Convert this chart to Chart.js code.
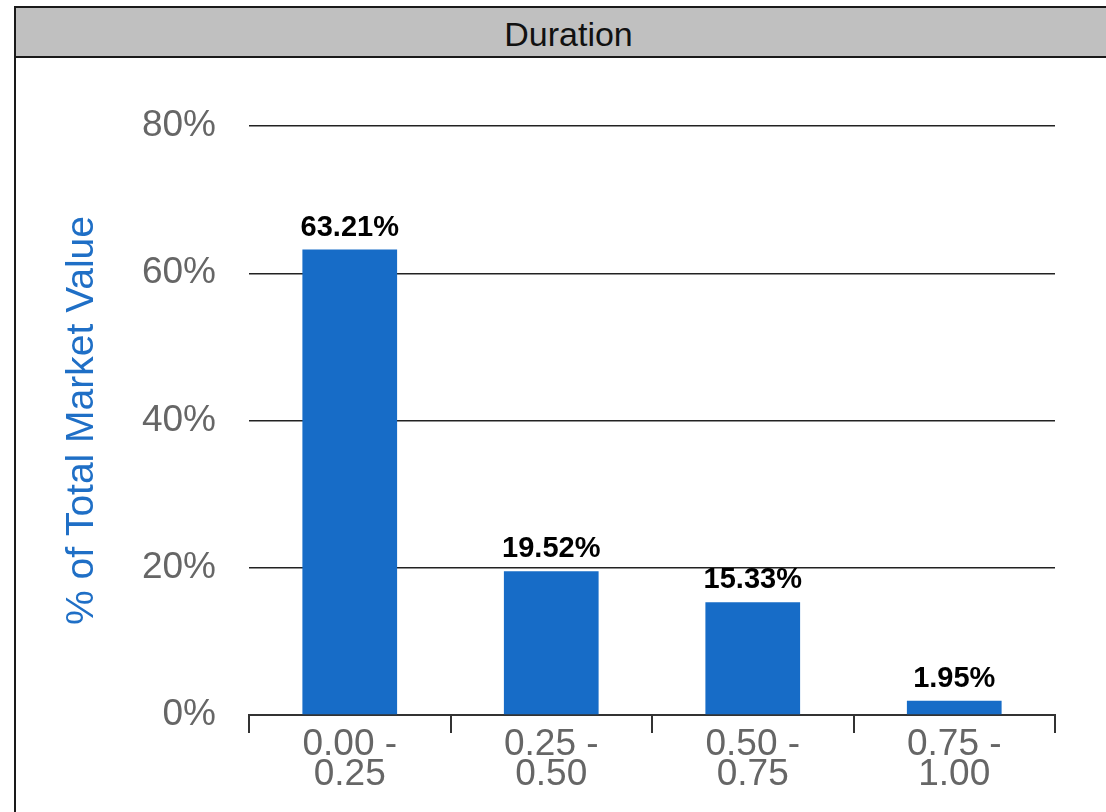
<!DOCTYPE html>
<html>
<head>
<meta charset="utf-8">
<title>Duration</title>
<script src="https://cdn.jsdelivr.net/npm/chart.js@4/dist/chart.umd.min.js"></script>
<style>
    html, body {
        margin: 0;
        padding: 0;
        background: #fff;
        width: 1106px;
        height: 812px;
        overflow: hidden;
        font-family: "Liberation Sans", Arial, sans-serif;
    }
    .panel {
        position: absolute;
        left: 14px;
        top: 6px;
        width: 1100px;
        height: 820px;
        border: 2px solid #1a1a1a;
        box-sizing: border-box;
    }
    .panel-header {
        height: 50px;
        background: #c0c0c0;
        border-bottom: 2px solid #1a1a1a;
        box-sizing: border-box;
        text-align: center;
        font-size: 34px;
        line-height: 52px;
        color: #111;
        padding-left: 9px;
    }
    .chart-box {
        position: absolute;
        left: 0;
        top: 0;
        width: 1106px;
        height: 812px;
    }
</style>
</head>
<body>
<div class="panel">
    <div class="panel-header">Duration</div>
</div>
<div class="chart-box">
    <canvas id="durationChart"></canvas>
</div>

<script>
// Duration buckets and share of total market value (%)
const buckets = [["0.00 -", "0.25"], ["0.25 -", "0.50"], ["0.50 -", "0.75"], ["0.75 -", "1.00"]];
const marketValue = [63.21, 19.52, 15.33, 1.95];
const yTicks = [0, 20, 40, 60, 80];

const barBlue = "#176cc7";
const fontFamily = "'Liberation Sans', Arial, sans-serif";

// Value labels above each bar
const barLabels = {
    id: "barLabels",
    afterDatasetsDraw(chart) {
        const ctx = chart.ctx;
        const meta = chart.getDatasetMeta(0);
        ctx.save();
        ctx.font = "bold 29px " + fontFamily;
        ctx.fillStyle = "#000";
        ctx.textAlign = "center";
        ctx.textBaseline = "alphabetic";
        meta.data.forEach((bar, i) => {
            ctx.fillText(marketValue[i].toFixed(2) + "%", bar.x, bar.y - 14);
        });
        ctx.restore();
    }
};

const ctx = document.getElementById("durationChart").getContext("2d");
new Chart(ctx, {
    type: "bar",
    data: {
        labels: buckets,
        datasets: [{
            data: marketValue,
            backgroundColor: barBlue,
            borderWidth: 0,
            barPercentage: 0.47,
            categoryPercentage: 1
        }]
    },
    options: {
        responsive: true,
        maintainAspectRatio: false,
        animation: false,
        events: [],
        layout: {
            padding: { left: 15, right: 51, top: 126, bottom: 0 }
        },
        plugins: {
            legend: { display: false },
            tooltip: { enabled: false }
        },
        scales: {
            x: {
                offset: true,
                border: { display: true, color: "#333", width: 2 },
                grid: {
                    drawOnChartArea: false,
                    drawTicks: true,
                    tickLength: 18,
                    color: "#333",
                    lineWidth: 2
                },
                ticks: {
                    color: "#666",
                    padding: -3,
                    maxRotation: 0,
                    autoSkip: false,
                    font: { family: fontFamily, size: 37, lineHeight: 0.8 }
                },
                afterFit(scale) {
                    scale.height = 97;
                }
            },
            y: {
                min: 0,
                max: 80,
                afterBuildTicks(scale) {
                    scale.ticks = yTicks.map(v => ({ value: v }));
                },
                border: { display: false },
                grid: {
                    drawTicks: false,
                    color: "#222",
                    lineWidth: 1.5
                },
                ticks: {
                    color: "#666",
                    padding: 33,
                    font: { family: fontFamily, size: 37 },
                    callback: v => v + "%"
                },
                title: {
                    display: true,
                    text: "% of Total Market Value",
                    color: "#1f6fc6",
                    font: { family: fontFamily, size: 39 },
                    padding: { top: 44, bottom: 0 }
                },
                afterFit(scale) {
                    scale.width = 234;
                }
            }
        }
    },
    plugins: [barLabels]
});
</script>
</body>
</html>
